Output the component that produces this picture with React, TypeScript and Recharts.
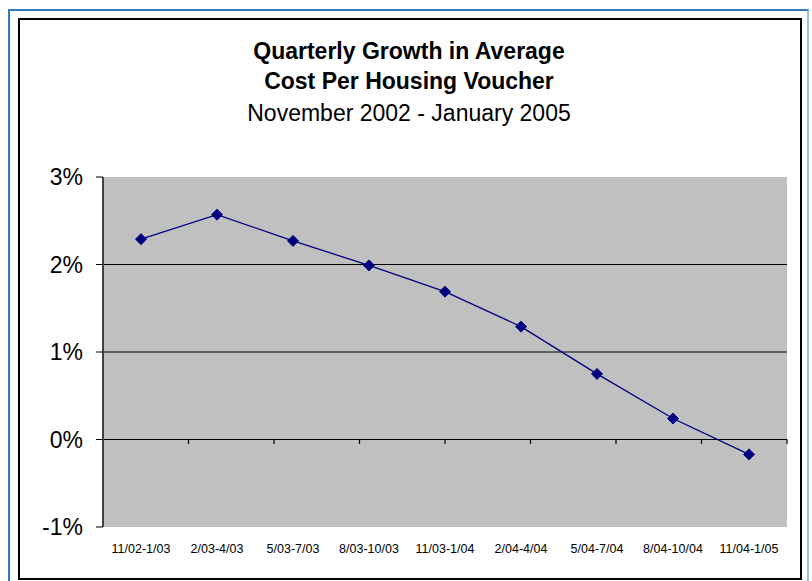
import React from 'react';
import { LineChart, Line, XAxis, YAxis, CartesianGrid, ReferenceLine, ReferenceArea } from 'recharts';

const periods = ['11/02-1/03', '2/03-4/03', '5/03-7/03', '8/03-10/03', '11/03-1/04', '2/04-4/04', '5/04-7/04', '8/04-10/04', '11/04-1/05'];
const growth = [2.29, 2.57, 2.27, 1.99, 1.69, 1.29, 0.75, 0.24, -0.17];
const yTicks = [-1, 0, 1, 2, 3];
const gridValues = [2, 1, 0];
const boundaries = [1, 2, 3, 4, 5, 6, 7, 8];

const data = periods.map((period, i) => ({ period, growth: growth[i] }));

const FONT = '"Liberation Sans", Arial, sans-serif';

function Diamond(props: any) {
  const { cx, cy } = props;
  if (cx == null || cy == null) return null;
  const s = 5.5;
  return <polygon points={`${cx},${cy - s} ${cx + s},${cy} ${cx},${cy + s} ${cx - s},${cy}`} fill="#000080" stroke="#000080" />;
}

export default function App() {
  return (
    <div style={{ position: 'relative', width: 812, height: 581, background: '#fff', overflow: 'hidden' }}>
      <style>{'body{margin:0}'}</style>
      <div style={{ position: 'absolute', left: 8, top: 9, width: 797, height: 580, borderStyle: 'solid', borderWidth: 2, borderColor: '#2f78c4 #9bbbe0 #2f78c4 #2f78c4' }} />
      <div style={{ position: 'absolute', left: 18, top: 18, width: 780, height: 558, border: '2px solid #000' }} />
      <div style={{ position: 'absolute', left: 0, top: 0 }}>
        <LineChart width={812} height={581} data={data} margin={{ top: 177, right: 25, bottom: 24, left: 0 }}>
          <CartesianGrid horizontal={false} vertical={false} fill="#C0C0C0" />
          <XAxis
            dataKey="period"
            scale="band"
            axisLine={false}
            tickLine={false}
            tickSize={0}
            tickMargin={17}
            height={30}
            interval={0}
            tick={{ fontSize: 12.5, fill: '#000', fontFamily: FONT }}
          />
          <XAxis xAxisId="n" type="number" domain={[0, 9]} hide allowDataOverflow />
          <YAxis
            domain={[-1, 3]}
            ticks={yTicks}
            width={103}
            tickFormatter={(v) => `${v}%`}
            tickSize={7}
            tickMargin={13}
            axisLine={{ stroke: '#404040', strokeWidth: 2 }}
            tickLine={{ stroke: '#000' }}
            tick={{ fontSize: 23, fill: '#000', fontFamily: FONT }}
            allowDataOverflow
          />
          <ReferenceArea xAxisId="n" x1={0} x2={9} y1={-1} y2={3} fill="none" fillOpacity={0} stroke="#808080" strokeWidth={1.5} />
          {gridValues.map((v) => (
            <ReferenceLine key={v} xAxisId="n" y={v} stroke="#000" strokeWidth={1.2} />
          ))}
          {boundaries.map((b) => (
            <ReferenceLine key={`t${b}`} xAxisId="n" segment={[{ x: b, y: 0 }, { x: b, y: -0.05 }]} stroke="#000" strokeWidth={1.2} />
          ))}
          <Line
            dataKey="growth"
            stroke="#000080"
            strokeWidth={1.3}
            dot={<Diamond />}
            activeDot={false}
            isAnimationActive={false}
          />
        </LineChart>
      </div>
      <svg width={812} height={581} style={{ position: 'absolute', left: 0, top: 0, pointerEvents: 'none' }}>
        <g fontFamily={FONT} fontSize={23} textAnchor="middle" fill="#000">
          <text x={409} y={59} fontWeight="bold">Quarterly Growth in Average</text>
          <text x={409} y={89} fontWeight="bold">Cost Per Housing Voucher</text>
          <text x={409} y={121}>November 2002 - January 2005</text>
        </g>
      </svg>
    </div>
  );
}
